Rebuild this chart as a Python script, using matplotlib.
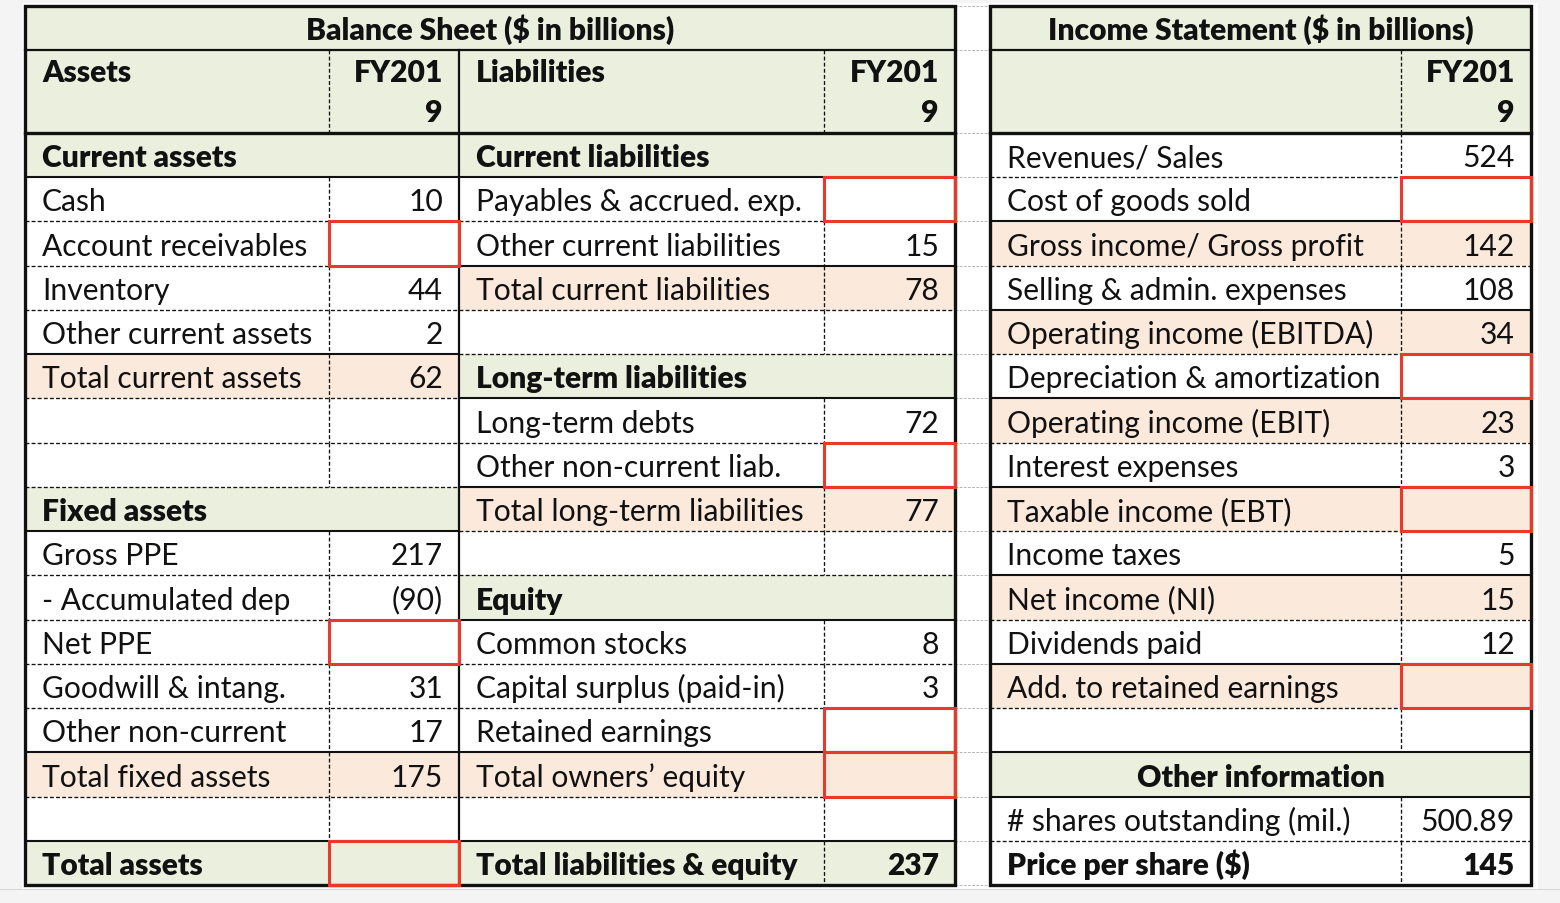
import matplotlib.pyplot as plt
import matplotlib.patches as patches

plt.rcParams["font.family"] = ["Lato", "DejaVu Sans"]
plt.rcParams["lines.scale_dashes"] = False

# ---- data ----
balance_title = "Balance Sheet ($ in billions)"
income_title = "Income Statement ($ in billions)"
other_title = "Other information"
year_header = ["FY201", "9"]  # wrapped the way the spreadsheet shows it
header_labels = ["Assets", "Liabilities", ""]

asset_labels = ["Current assets", "Cash", "Account receivables", "Inventory",
                "Other current assets", "Total current assets", "", "",
                "Fixed assets", "Gross PPE", "- Accumulated dep", "Net PPE",
                "Goodwill & intang.", "Other non-current", "Total fixed assets",
                "", "Total assets"]
asset_values = [None, 10, None, 44, 2, 62, None, None, None, 217, -90, None,
                31, 17, 175, None, None]
asset_kinds = ["section", "item", "item", "item", "item", "total", "blank",
               "blank", "section", "item", "item", "item", "item", "item",
               "total", "blank", "grand"]
asset_missing = [2, 11, 16]

liab_labels = ["Current liabilities", "Payables & accrued. exp.",
               "Other current liabilities", "Total current liabilities", "",
               "Long-term liabilities", "Long-term debts",
               "Other non-current liab.", "Total long-term liabilities", "",
               "Equity", "Common stocks", "Capital surplus (paid-in)",
               "Retained earnings", "Total owners\u2019 equity", "",
               "Total liabilities & equity"]
liab_values = [None, None, 15, 78, None, None, 72, None, 77, None, None, 8, 3,
               None, None, None, 237]
liab_kinds = ["section", "item", "item", "total", "blank", "section", "item",
              "item", "total", "blank", "section", "item", "item", "item",
              "total", "blank", "grand"]
liab_missing = [1, 7, 13, 14]

inc_labels = ["Revenues/ Sales", "Cost of goods sold",
              "Gross income/ Gross profit", "Selling & admin. expenses",
              "Operating income (EBITDA)", "Depreciation & amortization",
              "Operating income (EBIT)", "Interest expenses",
              "Taxable income (EBT)", "Income taxes", "Net income (NI)",
              "Dividends paid", "Add. to retained earnings", "", other_title,
              "# shares outstanding (mil.)", "Price per share ($)"]
inc_values = [524, None, 142, 108, 34, None, 23, 3, None, 5, 15, 12, None,
              None, None, 500.89, 145]
inc_kinds = ["item", "item", "total", "item", "total", "item", "total", "item",
             "total", "item", "total", "item", "total", "blank", "center",
             "item", "bold"]
inc_missing = [1, 5, 8, 12]

# ---- style / layout (pixels) ----
GREEN = "#ebf0de"
PEACH = "#fbe9db"
RED = "#e8392b"
INK = "#111111"
FS = 21.6
BOLD = "heavy"
DASH = (0, (2.8, 1.6))
TOP, TITLE_B, HEAD_B, BOTTOM = 7, 51, 134, 886
N_ROWS = 17
ROW_H = (BOTTOM - HEAD_B) / N_ROWS

fig = plt.figure(figsize=(15.6, 9.04), dpi=100, facecolor="#f4f4f4")
ax = fig.add_axes([0, 0, 1, 1])
ax.set_xlim(0, 1560)
ax.set_ylim(904, 0)
ax.axis("off")

ax.add_patch(patches.Rectangle((22, 4), 1516, 886, facecolor="white",
                               edgecolor="none", zorder=0))
ax.plot([0, 1560], [890, 890], color="#d9d9d9", lw=0.8, zorder=0)


def fmt(v):
    if v is None:
        return ""
    if v < 0:
        return f"({-v:g})"
    if isinstance(v, float) and v != int(v):
        return f"{v:.2f}"
    return f"{v:g}"


def hline(x0, x1, y, kind):
    if kind == "solid":
        ax.plot([x0, x1], [y, y], color=INK, lw=1.5, zorder=3,
                solid_capstyle="butt")
    else:
        ax.plot([x0, x1], [y, y], color=INK, lw=0.95, ls=DASH, zorder=2)


def vdash(x, y0, y1):
    ax.plot([x, x], [y0, y1], color=INK, lw=0.95, ls=DASH, zorder=2)


def draw_block(x0, xm, x1, labels, values, kinds, missing):
    for i, (lab, val, kind) in enumerate(zip(labels, values, kinds)):
        y0 = HEAD_B + i * ROW_H
        y1 = y0 + ROW_H
        fill = {"section": GREEN, "center": GREEN, "grand": GREEN,
                "total": PEACH}.get(kind)
        if fill:
            ax.add_patch(patches.Rectangle((x0, y0), x1 - x0, ROW_H,
                                           facecolor=fill, edgecolor="none",
                                           zorder=1))
        bold = kind in ("section", "center", "grand", "bold")
        weight = BOLD if bold else "normal"
        base = y1 - 11
        if kind == "center":
            ax.text((x0 + x1) / 2, base, lab, ha="center", va="baseline",
                    fontsize=FS, fontweight=weight, color=INK, zorder=5)
        else:
            ax.text(x0 + 17, base, lab, ha="left", va="baseline",
                    fontsize=FS, fontweight=weight, color=INK, zorder=5)
            ax.text(x1 - 16, base, fmt(val), ha="right", va="baseline",
                    fontsize=FS, fontweight=weight, color=INK, zorder=5)
        if kind not in ("section", "center"):
            vdash(xm, y0, y1)
        # border under the row
        if i < N_ROWS - 1:
            nxt = kinds[i + 1]
            solid = kind in ("section", "center") or nxt in ("total", "grand", "center")
            hline(x0, x1, y1, "solid" if solid else "dash")
    for i in missing:
        y0 = HEAD_B + i * ROW_H
        ax.add_patch(patches.Rectangle((xm, y0), x1 - xm, ROW_H, fill=False,
                                       edgecolor=RED, lw=2.2, zorder=6))


def draw_header(x0, xm, x1, label):
    ax.add_patch(patches.Rectangle((x0, TITLE_B), x1 - x0, HEAD_B - TITLE_B,
                                   facecolor=GREEN, edgecolor="none", zorder=1))
    ax.text(x0 + 17, TITLE_B + 31, label, ha="left", va="baseline",
            fontsize=FS, fontweight=BOLD, color=INK, zorder=5)
    for k, part in enumerate(year_header):
        ax.text(x1 - 16, TITLE_B + 31 + k * 40, part, ha="right",
                va="baseline", fontsize=FS, fontweight=BOLD, color=INK,
                zorder=5)
    vdash(xm, TITLE_B, HEAD_B)


def draw_title(x0, x1, title):
    ax.add_patch(patches.Rectangle((x0, TOP), x1 - x0, TITLE_B - TOP,
                                   facecolor=GREEN, edgecolor="none", zorder=1))
    ax.text((x0 + x1) / 2, TITLE_B - 11.5, title, ha="center", va="baseline",
            fontsize=FS, fontweight=BOLD, color=INK, zorder=5)
    ax.plot([x0, x1], [TITLE_B, TITLE_B], color=INK, lw=1.6, zorder=3)
    ax.plot([x0, x1], [HEAD_B, HEAD_B], color=INK, lw=2.4, zorder=4)
    ax.add_patch(patches.Rectangle((x0, TOP), x1 - x0, BOTTOM - TOP,
                                   fill=False, edgecolor=INK, lw=2.4, zorder=4))


# excel gridlines in the gap column
for y in [TOP, TITLE_B, HEAD_B] + [HEAD_B + i * ROW_H for i in range(1, N_ROWS + 1)]:
    ax.plot([955, 990], [y, y], color="#b8b8b8", lw=0.7, ls=(0, (2, 1)), zorder=0)

# balance sheet
draw_title(25, 955, balance_title)
draw_header(25, 329, 459, header_labels[0])
draw_header(459, 824, 955, header_labels[1])
draw_block(25, 329, 459, asset_labels, asset_values, asset_kinds, asset_missing)
draw_block(459, 824, 955, liab_labels, liab_values, liab_kinds, liab_missing)
ax.plot([459, 459], [TITLE_B, BOTTOM], color=INK, lw=1.6, zorder=4)

# income statement
draw_title(990, 1531, income_title)
draw_header(990, 1401, 1531, header_labels[2])
draw_block(990, 1401, 1531, inc_labels, inc_values, inc_kinds, inc_missing)

fig.savefig("out.png", dpi=100, facecolor=fig.get_facecolor())
